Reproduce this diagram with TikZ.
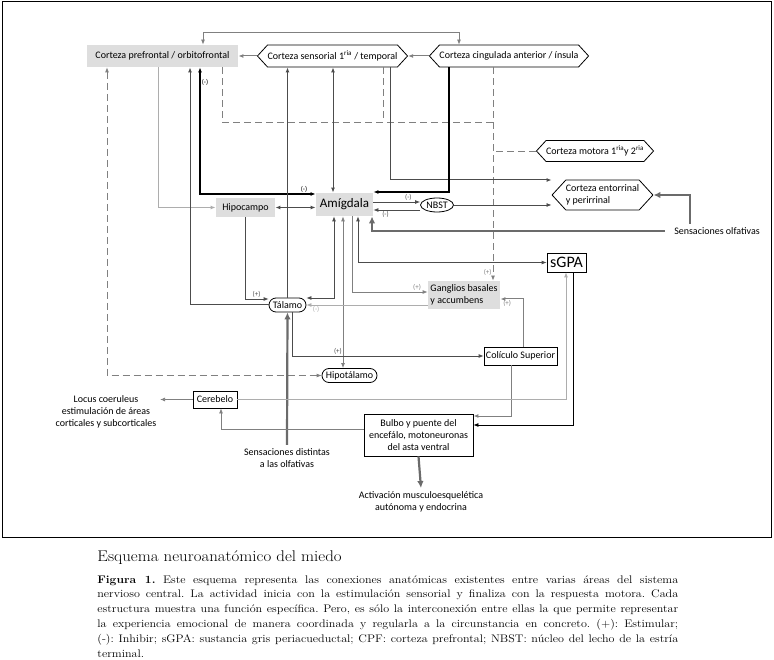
\documentclass[tikz,border=0pt]{standalone}
\usepackage{fontspec}
\newfontfamily\diagfont{Carlito}
\usepackage{tikz}
\usetikzlibrary{shapes,arrows.meta,positioning,calc}
\definecolor{boxgrey}{gray}{0.87}
\definecolor{lightline}{gray}{0.68}
\definecolor{midline}{gray}{0.5}
\definecolor{darkline}{gray}{0.3}
\definecolor{thickline}{gray}{0.42}
\tikzstyle{Box} = [rectangle, draw=black, fill=white, inner sep=1.5pt]
\tikzstyle{GreyBox} = [rectangle, fill=boxgrey, inner sep=2pt]
\tikzstyle{Hex} = [signal, signal to=west and east, signal pointer angle=95, draw=black, fill=white, inner xsep=0pt, minimum height=22pt]
\tikzstyle{Oval} = [ellipse, draw=black, inner sep=0pt]
\tikzstyle{Pill} = [rounded rectangle, draw=black, inner xsep=2pt, inner ysep=0pt]
\tikzstyle{LeftText} = [every text node part/.style={align=left}]
\tikzstyle{arrow} = [->, >={Latex[length=5pt,width=4pt]}]
\tikzstyle{BigArrow} = [->, thickline, line width=2.2pt, >={Latex[length=7pt,width=6.5pt]}]
\tikzstyle{Sign} = [font=\diagfont\fontsize{7}{8}\selectfont, inner sep=1pt]
\tikzstyle{DashLine} = [midline, dash pattern=on 7pt off 4pt]

\begin{document}
\begin{tikzpicture}[x=1pt, y=-1pt, line width=0.8pt, every text node part/.style={align=center}, font=\diagfont\fontsize{10}{12}\selectfont]
\useasboundingbox (0,0) rectangle (774,660);
\draw[line width=1pt] (2,2) rectangle (771,537);

% cortex row
\node (Prefrontal)[GreyBox, minimum width=151pt, minimum height=22pt] at (162.5,56) {Corteza prefrontal / orbitofrontal};
\node (Sensorial)[Hex] at (332.5,56) {Corteza sensorial 1\textsuperscript{ria} / temporal};
\node (Cingulada)[Hex] at (509,56) {Corteza cingulada anterior / ínsula};
\node (Motora)[Hex, minimum height=21pt] at (595,151) {Corteza motora 1\textsuperscript{ria}y 2\textsuperscript{ria}};
\node (Entorrinal)[Hex, LeftText, minimum height=30pt] at (602.5,195) {Corteza entorrinal\\y perirrinal};

% limbic nodes
\node (Amigdala)[GreyBox, minimum width=57pt, minimum height=23pt, font=\diagfont\fontsize{13}{14}\selectfont] at (344.5,204.5) {Amígdala};
\node (Hipocampo)[GreyBox, minimum width=59pt, minimum height=19pt] at (245.5,207.5) {Hipocampo};
\node (NBST)[Oval, minimum width=33pt, minimum height=14pt] at (437,205) {NBST};
\node (Talamo)[Pill, minimum width=41pt, minimum height=14pt] at (287.5,305) {Tálamo};
\node (Ganglios)[GreyBox, LeftText, minimum width=72pt, minimum height=28pt] at (464,295) {Ganglios basales\\y accumbens};
\node (sGPA)[Box, minimum width=39pt, minimum height=19pt, font=\diagfont\fontsize{16}{17}\selectfont] at (566.5,262.5) {sGPA};
\node (Coliculo)[Box, minimum width=73pt, minimum height=18pt] at (520.5,356) {Colículo Superior};
\node (Hipotalamo)[Pill, minimum width=59pt, minimum height=14pt] at (349.5,375.5) {Hipotálamo};
\node (Cerebelo)[Box, minimum width=44pt, minimum height=17pt] at (215,399.5) {Cerebelo};
\node (Bulbo)[Box, minimum width=109pt, minimum height=42pt] at (418.5,435) {Bulbo y puente del\\encefálo, motoneuronas\\del asta ventral};

% free texts
\node (Locus) at (106,412) {Locus coeruleus\\estimulación de áreas\\corticales y subcorticales};
\node (Distintas) at (287,458) {Sensaciones distintas\\a las olfativas};
\node (Activacion) at (421,502) {Activación musculoesquelética\\autónoma y endocrina};
\node (Olfativas) at (717,231) {Sensaciones olfativas};

% top connections
\draw[arrow, midline, line width=1pt] (Cingulada.west) -- (Sensorial.east);
\draw[arrow, midline, line width=1pt] (Sensorial.west) -- (Prefrontal.east);
\draw[arrow, <->, midline] (Prefrontal.north -| 203,0) -- ++(0,-12) -| (Cingulada.north -| 459,0);

% prefrontal column
\draw[arrow, <->, DashLine] (Prefrontal.south -| 107,0) |- (Hipotalamo.west);
\draw[arrow, lightline, line width=1pt] (Prefrontal.south -| 158,0) |- (Hipocampo.west);
\draw[arrow, darkline, line width=1pt] (Talamo.west) -| (Prefrontal.south -| 190,0);
\draw[arrow, <->, black, line width=1.5pt] (Prefrontal.south -| 200,0) |- (Amigdala.west |- 0,194) node[Sign, pos=0.06, right]{(-)} node[Sign, pos=0.95, above]{(-)};

% dashed motor network
\coordinate (DashJoin) at (493,122);
\draw[DashLine] (Prefrontal.south -| 222,0) |- (DashJoin);
\draw[DashLine] (Sensorial.south -| 383,0) -- (DashJoin -| 383,0);
\draw[DashLine] (Motora.west) -- (Motora.west -| DashJoin);
\draw[arrow, DashLine] (Cingulada.south -| DashJoin) -- (Ganglios.north -| DashJoin) node[Sign, pos=0.96, left]{(+)};

% sensory cortex and cingulate
\draw[arrow, darkline, line width=1pt] (Talamo.north) -- (Sensorial.south -| Talamo.north);
\draw[arrow, <->, darkline, line width=1pt] (Sensorial.south -| 333,0) -- (Amigdala.north -| 333,0);
\draw[arrow, darkline, line width=1pt] (Sensorial.south -| 390,0) |- (Entorrinal.west |- 0,180);
\draw[arrow, black, line width=1.5pt] (Cingulada.south -| 449,0) |- (Amigdala.east |- 0,192);

% amygdala
\draw[arrow, <->, darkline, line width=1pt] (Hipocampo.east) -- (Amigdala.west |- Hipocampo.east);
\draw[arrow, darkline] (Amigdala.east |- 0,202) -- (NBST.west |- 0,202) node[Sign, pos=0.75, above]{(-)};
\draw[arrow, darkline] (NBST.west |- 0,210) -- (Amigdala.east |- 0,210) node[Sign, pos=0.74, below]{(-)};
\draw[arrow, darkline] (NBST.east) -- (Entorrinal.west |- NBST.east);
\draw[BigArrow] (Olfativas.north -| 690,0) |- (Entorrinal.east);
\draw[BigArrow, shorten <=6pt] (Olfativas.west) -| (Amigdala.south -| 372,0);
\draw[arrow, <->, darkline] (Amigdala.south -| 334,0) |- (Talamo.east |- 0,298);
\draw[arrow, <->, midline] (Amigdala.south -| 343,0) -- (Hipotalamo.north -| 343,0);
\draw[arrow, midline] (Amigdala.south -| 352,0) |- (Ganglios.west |- 0,292) node[Sign, pos=0.93, above]{(+)};
\draw[arrow, <->, darkline] (Amigdala.south -| 358,0) |- (sGPA.west);

% thalamus
\draw[arrow, darkline] (Hipocampo.south) |- (Talamo.west |- 0,299) node[Sign, pos=0.74, above]{(+)};
\draw[arrow, lightline] (Ganglios.west |- Talamo.east) -- (Talamo.east) node[Sign, pos=0.92, below]{(-)};
\draw[arrow, darkline] (Talamo.south -| 292,0) |- (Coliculo.west) node[Sign, pos=0.62, above]{(+)};
\draw[BigArrow] (Distintas.north) -- (Talamo.south);

% colliculus, sGPA, brainstem
\draw[arrow, midline, line width=1pt] (Coliculo.north -| 523,0) |- (Ganglios.east |- 0,299) node[Sign, pos=0.85, below]{(+)};
\draw[arrow, midline, line width=1pt] (Coliculo.south -| 511,0) |- (Bulbo.east |- 0,416);
\draw[arrow, black] (sGPA.south -| 573,0) |- (Bulbo.east |- 0,425);
\draw[arrow, lightline] (Cerebelo.east) -| (sGPA.south -| 566,0);
\draw[arrow, midline] (Cerebelo.west) -- (Locus.east |- Cerebelo.west);
\draw[arrow, midline] (Bulbo.west |- 0,429) -| (Cerebelo.south -| 221,0);
\draw[BigArrow] (Bulbo.south) -- (Activacion.north);

% caption
\node (Titulo)[anchor=base west, inner sep=0pt, font=\rmfamily\fontsize{15.5}{17}\selectfont] at (97,561) {\scalebox{1.09}[1]{Esquema neuroanatómico del miedo}};
\node (Leyenda)[anchor=base west, inner sep=0pt, font=\rmfamily\fontsize{11}{14.8}\selectfont\frenchspacing] at (97,583) {\scalebox{1.1}[1]{\parbox[t]{528pt}{\textbf{Figura 1.} Este esquema representa las conexiones anatómicas existentes entre varias áreas del sistema\linebreak
nervioso central. La actividad inicia con la estimulación sensorial y finaliza con la respuesta motora. Cada\linebreak
estructura muestra una función específica. Pero, es sólo la interconexión entre ellas la que permite representar\linebreak
la experiencia emocional de manera coordinada y regularla a la circunstancia en concreto. (+): Estimular;\linebreak
(-): Inhibir; sGPA: sustancia gris periacueductal; CPF: corteza prefrontal; NBST: núcleo del lecho de la estría\linebreak
terminal.}}};
\end{tikzpicture}
\end{document}
